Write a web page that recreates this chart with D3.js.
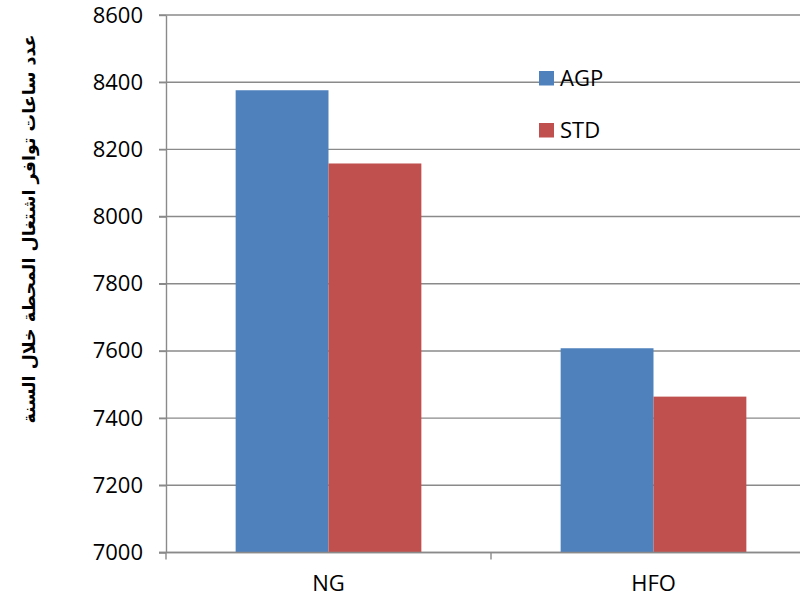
<!DOCTYPE html>
<html>
<head>
<meta charset="utf-8">
<script src="https://cdn.jsdelivr.net/npm/d3@7"></script>
<style>
  html, body { margin: 0; padding: 0; background: #fff; }
  svg { display: block; }
</style>
</head>
<body>
<svg id="chart" width="800" height="600"></svg>
<script>
// Fuel types and yearly availability hours per operating mode
const categories = ["NG", "HFO"];
const seriesNames = ["AGP", "STD"];
const agpValues = [8376, 7608];
const stdValues = [8158, 7464];
const yTicks = [7000, 7200, 7400, 7600, 7800, 8000, 8200, 8400, 8600];
const yTitle = "عدد ساعات توافر اشتغال  المحطة خلال السنة";
const colors = ["#4F81BD", "#C0504D"];

const svg = d3.select("#chart");
const plotLeft = 166, plotRight = 816, plotTop = 15, plotBottom = 552.5;

const x = d3.scaleBand().domain(categories).range([plotLeft, plotRight]).paddingInner(0).paddingOuter(0);
// gap width 150%: each bar = band / (2 + 1.5)
const barW = x.bandwidth() / 3.5;
const y = d3.scaleLinear().domain([7000, 8600]).range([plotBottom, plotTop]);

const gridColor = "#8a8a8a";
const font = "'Open Sans', 'Liberation Sans', sans-serif";
const fontSize = 22;

// horizontal gridlines
svg.append("g").selectAll("line").data(yTicks).join("line")
  .attr("x1", plotLeft - 7).attr("x2", plotRight)
  .attr("y1", d => y(d)).attr("y2", d => y(d))
  .attr("stroke", gridColor).attr("stroke-width", 1.4);

// bars
const rows = categories.map((c, i) => ({ cat: c, vals: [agpValues[i], stdValues[i]] }));
const groups = svg.append("g").selectAll("g").data(rows).join("g")
  .attr("transform", d => `translate(${x(d.cat) + (x.bandwidth() - 2 * barW) / 2},0)`);
groups.selectAll("rect").data(d => d.vals.map((v, j) => ({ v, j }))).join("rect")
  .attr("x", d => d.j * barW)
  .attr("width", barW)
  .attr("y", d => y(d.v))
  .attr("height", d => plotBottom - y(d.v))
  .attr("fill", d => colors[d.j]);

// y axis
const yAxis = d3.axisLeft(y).tickValues(yTicks).tickSize(7).tickSizeOuter(0).tickPadding(16)
  .tickFormat(d3.format("d"));
const gy = svg.append("g").attr("transform", `translate(${plotLeft},0)`).call(yAxis);
gy.select(".domain").attr("stroke", gridColor).attr("stroke-width", 1.4);
gy.selectAll(".tick line").attr("stroke", gridColor).attr("stroke-width", 1.4);
gy.selectAll(".tick text").attr("font-family", font).attr("font-size", fontSize).attr("fill", "#000");

// x axis
const xAxis = d3.axisBottom(x).tickSize(0).tickPadding(23);
const gx = svg.append("g").attr("transform", `translate(0,${plotBottom})`).call(xAxis);
gx.select(".domain").remove();
gx.append("line").attr("x1", plotLeft - 7).attr("x2", plotRight).attr("y1", 0).attr("y2", 0)
  .attr("stroke", gridColor).attr("stroke-width", 1.4);
gx.selectAll(".cat-tick").data([plotLeft, ...categories.map(c => x(c) + x.bandwidth())]).join("line")
  .attr("class", "cat-tick")
  .attr("x1", d => d).attr("x2", d => d).attr("y1", 0).attr("y2", 7)
  .attr("stroke", gridColor).attr("stroke-width", 1.4);
gx.selectAll(".tick text").attr("font-family", font).attr("font-size", fontSize).attr("fill", "#000");

// y axis title
svg.append("text")
  .attr("transform", "translate(35,229) rotate(-90)")
  .attr("text-anchor", "middle")
  .attr("font-family", "'DejaVu Sans', sans-serif")
  .attr("font-weight", "bold")
  .attr("font-size", 17.5)
  .attr("direction", "rtl")
  .attr("fill", "#000")
  .text(yTitle);

// legend
const legend = svg.append("g").attr("transform", "translate(539,71)");
const li = legend.selectAll("g").data(seriesNames).join("g")
  .attr("transform", (d, i) => `translate(0,${i * 52})`);
li.append("rect").attr("width", 15).attr("height", 14.5).attr("fill", (d, i) => colors[i]);
li.append("text").attr("x", 21).attr("y", 14.5)
  .attr("font-family", font).attr("font-size", fontSize).attr("fill", "#000")
  .text(d => d);
</script>
</body>
</html>
